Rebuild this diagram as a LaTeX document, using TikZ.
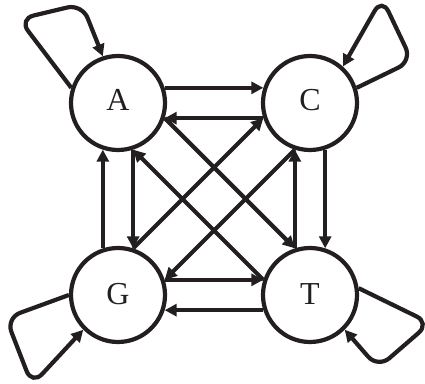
\documentclass[tikz,border=0pt]{standalone}
\usepackage{fontspec}
\setmainfont{Liberation Serif}
\usetikzlibrary{arrows.meta, positioning}
\definecolor{inkblack}{RGB}{35,31,32}

\begin{document}
\begin{tikzpicture}[>={Triangle[length=12pt, width=12pt]}, line width=4.2pt, node distance=93.8pt,
  x=1pt, y=1pt, color=inkblack,
  base/.style={draw, circle, minimum size=94pt, inner sep=0pt, font=\fontsize{32}{32}\selectfont},
  loop/.style={->, rounded corners=15pt}]
  \useasboundingbox (0,0) rectangle (425,383);
  \node[base] (A) at (118,280) {\raisebox{6pt}{A}};
  \node[base, right=of A] (C) {\raisebox{6pt}{C}};
  \node[base, below=of A] (G) {\raisebox{2pt}{G}};
  \node[base, right=of G] (T) {\raisebox{2pt}{T}};
  \draw[->] (A.18) -- (C.162);
  \draw[->] (C.198) -- (A.-18);
  \draw[->] (G.18) -- (T.162);
  \draw[->] (T.198) -- (G.-18);
  \draw[->] (G.108) -- (A.252);
  \draw[->] (A.288) -- (G.72);
  \draw[->] (T.108) -- (C.252);
  \draw[->] (C.288) -- (T.72);
  \draw[->] (A.-18) -- (T.108);
  \draw[->] (T.162) -- (A.288);
  \draw[->] (G.72) -- (C.198);
  \draw[->] (C.252) -- (G.18);
  \draw[loop] (A.162) -- (19,364) -- (82,379) -- (A.108);
  \draw[loop] (C.18) -- (412,322) -- (382,385) -- (C.48);
  \draw[loop] (G.180) -- (6,65) -- (32,-2) -- (G.225);
  \draw[loop] (T.8) -- (430,60) -- (378,15) -- (T.-45);
\end{tikzpicture}
\end{document}
